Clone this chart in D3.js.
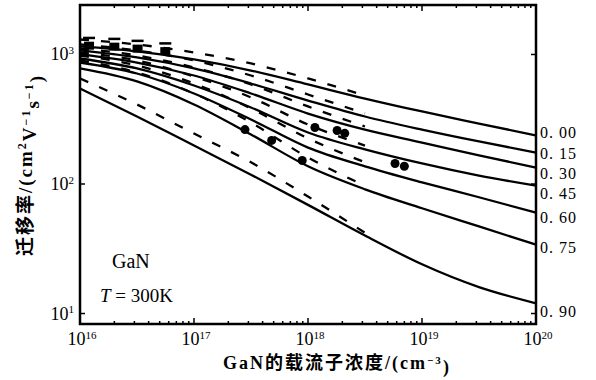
<!DOCTYPE html>
<html>
<head>
<meta charset="utf-8">
<script src="https://cdn.jsdelivr.net/npm/d3@7"></script>
<style>
  body { margin: 0; background: #fff; }
  svg { display: block; }
  text { font-family: 'Liberation Serif', 'Times New Roman', 'DejaVu Serif', serif; fill: #000; }
  .cjk { font-family: 'Noto Sans CJK SC', sans-serif; font-weight: 700; }
</style>
</head>
<body>
<svg class="canvas" width="596" height="380"></svg>
<script>
// Carrier concentration (cm^-3) where each curve was read
const conc = [1e16, 3.16e16, 1e17, 3.16e17, 1e18, 3.16e18, 1e19, 3.16e19, 1e20];
const dashConc = conc.slice(0, 6);

// Compensation ratio labels
const ratios = ['0. 00', '0. 15', '0. 30', '0. 45', '0. 60', '0. 75', '0. 90'];

// Solid curves: mobility (cm^2 V^-1 s^-1)
const solid000 = [1153, 1055, 915, 752, 587, 457, 363, 293, 237];
const solid015 = [1074, 948, 780, 597, 441, 332, 263, 213, 175];
const solid030 = [1000, 867, 688, 500, 350, 263, 209, 166, 134];
const solid045 = [931, 780, 576, 390, 250, 185, 144, 116, 97];
const solid060 = [867, 713, 500, 315, 191, 137, 103, 79, 60];
const solid075 = [780, 619, 411, 241, 137, 91, 65, 47, 34];
const solid090 = [546, 332, 198, 118, 69, 40, 24, 16, 12];

// Dashed curves (low-concentration part only)
const dash000 = [1305, 1195, 1036, 852, 653, 482];
const dash015 = [1195, 1074, 899, 688, 491, 350];
const dash030 = [1112, 982, 794, 587, 397, 278];
const dash045 = [1036, 899, 676, 466, 288, 198];
const dash060 = [982, 823, 597, 383, 225, 147];
const dash075 = [899, 726, 500, 298, 160, 97];
const dash090 = [653, 411, 245, 147, 80, 42];

// Measured points
const circleConc = [2.8e17, 4.8e17, 8.9e17, 1.15e18, 1.8e18, 2.1e18, 5.8e18, 7.0e18];
const circleMu = [263, 217, 152, 273, 259, 246, 144, 137];
const squareConc = [1.2e16, 2.0e16, 3.2e16, 5.6e16];
const squareMu = [1190, 1170, 1130, 1080];

const xTicks = [1e16, 1e17, 1e18, 1e19, 1e20];
const yTicks = [1e1, 1e2, 1e3];

const solids = [solid000, solid015, solid030, solid045, solid060, solid075, solid090];
const dashes = [dash000, dash015, dash030, dash045, dash060, dash075, dash090];
const labelY = [132, 153, 173, 193, 217, 247, 311];

const serif = "'Liberation Serif', 'Times New Roman', 'DejaVu Serif', serif";
const svg = d3.select('.canvas').attr('font-family', serif);
const plot = { left: 80, right: 536, top: 5, bottom: 324 };

const x = d3.scaleLog().domain([1e16, 1e20]).range([plot.left, plot.right]);
const y = d3.scaleLog().domain([8.3, 2410]).range([plot.bottom, plot.top]);

const line = d3.line()
  .x(d => x(d[0]))
  .y(d => y(d[1]))
  .curve(d3.curveMonotoneX);

// curves
solids.forEach(vals => {
  svg.append('path')
    .attr('d', line(vals.map((v, i) => [conc[i], v])))
    .attr('fill', 'none')
    .attr('stroke', '#000')
    .attr('stroke-width', 2.3);
});
dashes.forEach(vals => {
  svg.append('path')
    .attr('d', line(vals.map((v, i) => [dashConc[i], v])))
    .attr('fill', 'none')
    .attr('stroke', '#000')
    .attr('stroke-width', 2.3)
    .attr('stroke-dasharray', '9,12');
});

// measured markers
svg.selectAll('.pt')
  .data(circleConc.map((c, i) => [c, circleMu[i]]))
  .enter()
  .append('circle')
  .attr('cx', d => x(d[0]))
  .attr('cy', d => y(d[1]))
  .attr('r', 4.5)
  .attr('fill', '#000');

const sq = svg.selectAll('.sq')
  .data(squareConc.map((c, i) => [c, squareMu[i]]))
  .enter()
  .append('g')
  .attr('transform', d => `translate(${x(d[0])},${y(d[1])})`);
sq.append('rect').attr('x', -5).attr('y', -3).attr('width', 10).attr('height', 8).attr('fill', '#000');
sq.append('rect').attr('x', -6).attr('y', -8).attr('width', 12).attr('height', 2.5).attr('fill', '#000');

// frame
svg.append('rect')
  .attr('x', plot.left).attr('y', plot.top)
  .attr('width', plot.right - plot.left).attr('height', plot.bottom - plot.top)
  .attr('fill', 'none').attr('stroke', '#000').attr('stroke-width', 2.5);

// minor ticks on x
const minor = [];
xTicks.slice(0, -1).forEach(t => {
  for (let k = 2; k <= 9; k++) minor.push(t * k);
});
[plot.bottom, plot.top].forEach((yy, j) => {
  const dir = j === 0 ? -1 : 1;
  svg.selectAll(null).data(minor).enter().append('line')
    .attr('x1', d => x(d)).attr('x2', d => x(d))
    .attr('y1', yy).attr('y2', yy + dir * 3)
    .attr('stroke', '#000').attr('stroke-width', 1.5);
  svg.selectAll(null).data(xTicks).enter().append('line')
    .attr('x1', d => x(d)).attr('x2', d => x(d))
    .attr('y1', yy).attr('y2', yy + dir * 6)
    .attr('stroke', '#000').attr('stroke-width', 1.5);
});
[plot.left, plot.right].forEach((xx, j) => {
  const dir = j === 0 ? 1 : -1;
  svg.selectAll(null).data(yTicks).enter().append('line')
    .attr('x1', xx).attr('x2', xx + dir * 5)
    .attr('y1', d => y(d)).attr('y2', d => y(d))
    .attr('stroke', '#000').attr('stroke-width', 1.5);
});

// tick labels
function power(sel, d) {
  sel.append('tspan').text('10');
  sel.append('tspan').attr('dy', '-0.55em').attr('font-size', '11px')
    .text(Math.round(Math.log10(d)));
}
svg.selectAll('.xl').data(xTicks).enter().append('text')
  .attr('x', d => x(d) + 2).attr('y', 345)
  .attr('text-anchor', 'middle')
  .attr('font-size', '18px')
  .each(function (d) { power(d3.select(this), d); });
svg.selectAll('.yl').data(yTicks).enter().append('text')
  .attr('x', 74).attr('y', d => y(d) + 6)
  .attr('text-anchor', 'end')
  .attr('font-size', '18px')
  .each(function (d) { power(d3.select(this), d); });

// curve labels
svg.selectAll('.rl').data(ratios).enter().append('text')
  .attr('x', 540).attr('y', (d, i) => labelY[i] + 6)
  .attr('font-size', '16px')
  .attr('letter-spacing', '1px')
  .text(d => d);

// annotations
svg.append('text').attr('x', 112).attr('y', 268).attr('font-size', '20px').text('GaN');
const tt = svg.append('text').attr('x', 100).attr('y', 302).attr('font-size', '19px');
tt.append('tspan').attr('font-style', 'italic').text('T');
tt.append('tspan').text(' = 300K');

// axis titles
const xt = svg.append('text').attr('x', 337).attr('y', 369)
  .attr('text-anchor', 'middle').attr('font-size', '18px').attr('font-weight', 700)
  .attr('letter-spacing', '2px');
xt.append('tspan').text('GaN');
xt.append('tspan').attr('class', 'cjk').text('的载流子浓度');
xt.append('tspan').text('/(cm');
xt.append('tspan').attr('dy', '-0.5em').attr('font-size', '11px').text('−3');
xt.append('tspan').attr('dy', '0.5em').text(')');

const yt = svg.append('text')
  .attr('transform', 'translate(32,165) rotate(-90)')
  .attr('text-anchor', 'middle').attr('font-size', '19px').attr('font-weight', 700)
  .attr('letter-spacing', '2px');
yt.append('tspan').attr('class', 'cjk').text('迁移率');
yt.append('tspan').text('/(cm');
yt.append('tspan').attr('dy', '-0.5em').attr('font-size', '12px').text('2');
yt.append('tspan').attr('dy', '0.5em').text('V');
yt.append('tspan').attr('dy', '-0.5em').attr('font-size', '12px').text('−1');
yt.append('tspan').attr('dy', '0.5em').text('s');
yt.append('tspan').attr('dy', '-0.5em').attr('font-size', '12px').text('−1');
yt.append('tspan').attr('dy', '0.5em').text(')');
</script>
</body>
</html>
